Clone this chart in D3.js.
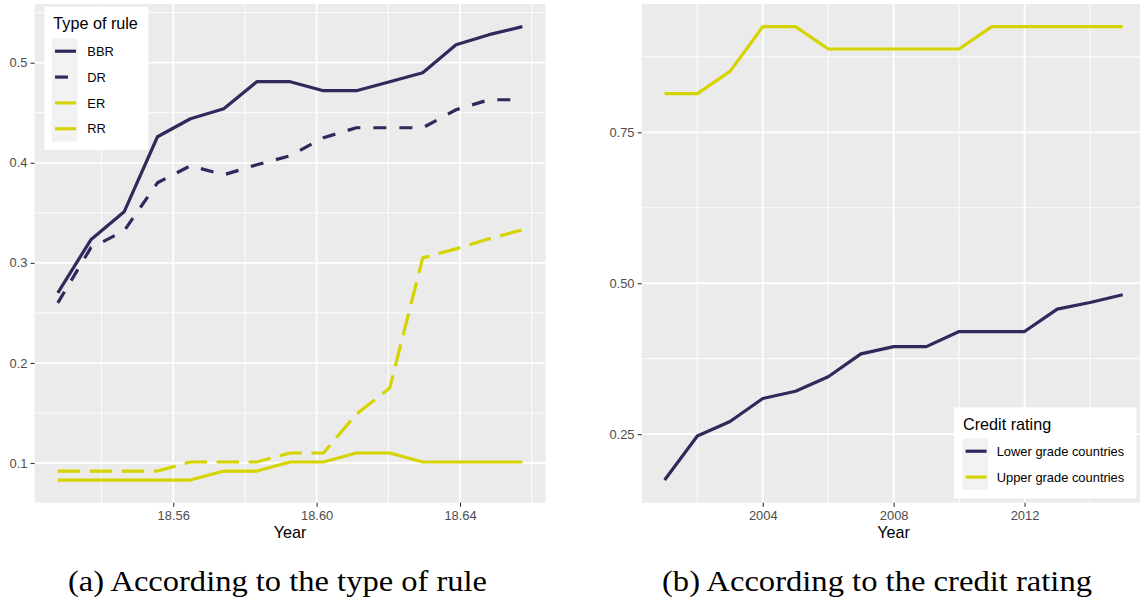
<!DOCTYPE html>
<html>
<head>
<meta charset="utf-8">
<script src="https://cdn.jsdelivr.net/npm/d3@7"></script>
<style>
  html, body { margin: 0; padding: 0; background: #ffffff; overflow: hidden; }
  svg { display: block; }
</style>
</head>
<body>
<svg id="chart" width="1140" height="602"></svg>
<script>
// ---------------- DATA ----------------
const years = [2001, 2002, 2003, 2004, 2005, 2006, 2007, 2008, 2009, 2010, 2011, 2012, 2013, 2014, 2015];
const ruleX = [18.5278, 18.5370, 18.5463, 18.5556, 18.5648, 18.5741, 18.5833, 18.5926,
               18.6019, 18.6111, 18.6204, 18.6296, 18.6389, 18.6481, 18.6574];
const ruleTypes = ["BBR", "DR", "ER", "RR"];
const bbr = [0.270, 0.323, 0.351, 0.426, 0.444, 0.454, 0.481, 0.481, 0.472, 0.472, 0.481, 0.490, 0.518, 0.528, 0.536];
const dr  = [0.260, 0.315, 0.332, 0.380, 0.397, 0.388, 0.398, 0.407, 0.425, 0.435, 0.435, 0.435, 0.453, 0.463, 0.463];
const er  = [0.092, 0.092, 0.092, 0.092, 0.101, 0.101, 0.101, 0.110, 0.110, 0.149, 0.175, 0.305, 0.314, 0.324, 0.333];
const rr  = [0.083, 0.083, 0.083, 0.083, 0.083, 0.092, 0.092, 0.101, 0.101, 0.110, 0.110, 0.101, 0.101, 0.101, 0.101];

const ratingNames = ["Lower grade countries", "Upper grade countries"];
const lowerGrade = [0.174, 0.247, 0.271, 0.309, 0.321, 0.345, 0.383, 0.395, 0.395, 0.420, 0.420, 0.420, 0.457, 0.468, 0.481];
const upperGrade = [0.814, 0.814, 0.851, 0.925, 0.925, 0.888, 0.888, 0.888, 0.888, 0.888, 0.925, 0.925, 0.925, 0.925, 0.925];

const ruleTicksX = [18.56, 18.60, 18.64];
const ruleMinorX = [18.54, 18.58, 18.62, 18.66];
const ruleTicksY = [0.1, 0.2, 0.3, 0.4, 0.5];
const ruleMinorY = [0.15, 0.25, 0.35, 0.45, 0.55];
const ratingTicksX = [2004, 2008, 2012];
const ratingMinorX = [2002, 2006, 2010, 2014];
const ratingTicksY = [0.25, 0.50, 0.75];
const ratingMinorY = [0.375, 0.625, 0.875];

const captionA = "(a) According to the type of rule";
const captionB = "(b) According to the credit rating";

// ---------------- STYLE ----------------
const NAVY = "#2e2a5b";
const YELLOW = "#d6d400";
const FONT = "'Liberation Sans', Arial, Helvetica, sans-serif";
const LW = 3.2;
const dashFor = { solid: null, dashed: "13,13", longdash: "22.4,9.6" };

const svg = d3.select("#chart");

function expand(ext) {
  const r = ext[1] - ext[0];
  return [ext[0] - 0.05 * r, ext[1] + 0.05 * r];
}

function drawPanel(opts) {
  const { x, y, xTicks, xMinor, yTicks, yMinor, xFmt, yFmt, series, left, right, top, bottom } = opts;
  const g = svg.append("g");
  // background
  g.append("rect").attr("x", left).attr("y", top)
    .attr("width", right - left).attr("height", bottom - top).attr("fill", "#ebebeb");
  // minor grid
  yMinor.forEach(v => g.append("line").attr("x1", left).attr("x2", right)
    .attr("y1", y(v)).attr("y2", y(v)).attr("stroke", "#ffffff").attr("stroke-width", 0.9));
  xMinor.forEach(v => g.append("line").attr("y1", top).attr("y2", bottom)
    .attr("x1", x(v)).attr("x2", x(v)).attr("stroke", "#ffffff").attr("stroke-width", 0.9));
  // major grid
  yTicks.forEach(v => g.append("line").attr("x1", left).attr("x2", right)
    .attr("y1", y(v)).attr("y2", y(v)).attr("stroke", "#ffffff").attr("stroke-width", 1.8));
  xTicks.forEach(v => g.append("line").attr("y1", top).attr("y2", bottom)
    .attr("x1", x(v)).attr("x2", x(v)).attr("stroke", "#ffffff").attr("stroke-width", 1.8));

  // lines
  const line = d3.line().x(d => x(d[0])).y(d => y(d[1])).curve(d3.curveLinear);
  series.forEach(s => {
    g.append("path").datum(s.xs.map((xv, i) => [xv, s.ys[i]]))
      .attr("d", line).attr("fill", "none")
      .attr("stroke", s.color).attr("stroke-width", LW)
      .attr("stroke-linejoin", "round").attr("stroke-linecap", "butt")
      .attr("stroke-dasharray", dashFor[s.type]);
  });

  // axes
  const ax = g.append("g").attr("transform", `translate(0,${bottom})`)
    .call(d3.axisBottom(x).tickValues(xTicks).tickFormat(xFmt).tickSize(4).tickPadding(4.5));
  const ay = g.append("g").attr("transform", `translate(${left},0)`)
    .call(d3.axisLeft(y).tickValues(yTicks).tickFormat(yFmt).tickSize(4).tickPadding(3.2));
  [ax, ay].forEach(a => {
    a.select(".domain").remove();
    a.selectAll(".tick line").attr("stroke", "#333333").attr("stroke-width", 1.1);
    a.selectAll(".tick text").attr("fill", "#4d4d4d").style("font-family", FONT).style("font-size", "12.9px");
  });
  // axis title
  g.append("text").attr("x", (left + right) / 2).attr("y", 538)
    .attr("text-anchor", "middle").style("font-family", FONT).style("font-size", "16.2px")
    .attr("fill", "#000").text("Year");
  return g;
}

function drawLegend(opts) {
  const { bx, by, bw, bh, title, items, keyX, keyY0, labelX } = opts;
  const g = svg.append("g");
  g.append("rect").attr("x", bx).attr("y", by).attr("width", bw).attr("height", bh).attr("fill", "#ffffff");
  g.append("text").attr("x", bx + 9).attr("y", by + 22.5)
    .style("font-family", FONT).style("font-size", "16.2px").attr("fill", "#000").text(title);
  const keyH = 25.85;
  g.append("rect").attr("x", keyX).attr("y", keyY0).attr("width", 26).attr("height", keyH * items.length)
    .attr("fill", "#f2f2f2");
  items.forEach((it, i) => {
    const cy = keyY0 + keyH * (i + 0.5);
    g.append("line").attr("x1", keyX + 3.3).attr("x2", keyX + 24.3).attr("y1", cy).attr("y2", cy)
      .attr("stroke", it.color).attr("stroke-width", LW).attr("stroke-linecap", "butt")
      .attr("stroke-dasharray", dashFor[it.type]);
    g.append("text").attr("x", labelX).attr("y", cy + 4.6)
      .style("font-family", FONT).style("font-size", "12.9px").attr("fill", "#000").text(it.name);
  });
}

// ---------------- PANEL A ----------------
const leftA = 34.6, rightA = 545.6, topP = 4, bottomP = 502.7;
const xA = d3.scaleLinear().domain(expand(d3.extent(ruleX))).range([leftA, rightA]);
const yA = d3.scaleLinear().domain(expand(d3.extent([...bbr, ...dr, ...er, ...rr]))).range([bottomP, topP]);
const ruleSeries = [
  { name: ruleTypes[0], ys: bbr, color: NAVY, type: "solid" },
  { name: ruleTypes[1], ys: dr, color: NAVY, type: "dashed" },
  { name: ruleTypes[2], ys: er, color: YELLOW, type: "longdash" },
  { name: ruleTypes[3], ys: rr, color: YELLOW, type: "solid" }
].map(s => Object.assign(s, { xs: ruleX }));

drawPanel({
  x: xA, y: yA, xTicks: ruleTicksX, xMinor: ruleMinorX, yTicks: ruleTicksY, yMinor: ruleMinorY,
  xFmt: d3.format(".2f"), yFmt: d3.format(".1f"), series: ruleSeries,
  left: leftA, right: rightA, top: topP, bottom: bottomP
});
drawLegend({
  bx: 44.3, by: 6.7, bw: 104, bh: 143.3, title: "Type of rule",
  items: ruleSeries, keyX: 51.7, keyY0: 38.3, labelX: 87.3
});

// ---------------- PANEL B ----------------
const leftB = 641.7, rightB = 1145.6;
const xB = d3.scaleLinear().domain(expand(d3.extent(years))).range([leftB, rightB]);
const yB = d3.scaleLinear().domain(expand(d3.extent([...lowerGrade, ...upperGrade]))).range([bottomP, topP]);
const ratingSeries = [
  { name: ratingNames[0], ys: lowerGrade, color: NAVY, type: "solid" },
  { name: ratingNames[1], ys: upperGrade, color: YELLOW, type: "solid" }
].map(s => Object.assign(s, { xs: years }));

drawPanel({
  x: xB, y: yB, xTicks: ratingTicksX, xMinor: ratingMinorX, yTicks: ratingTicksY, yMinor: ratingMinorY,
  xFmt: d3.format("d"), yFmt: d3.format(".2f"), series: ratingSeries,
  left: leftB, right: rightB, top: topP, bottom: bottomP
});
drawLegend({
  bx: 954, by: 407.3, bw: 182.5, bh: 91, title: "Credit rating",
  items: ratingSeries, keyX: 962.3, keyY0: 438.3, labelX: 996.7
});

// ---------------- CAPTIONS ----------------
svg.append("text").attr("x", 68).attr("y", 591)
  .style("font-family", "'Liberation Serif', 'Times New Roman', serif").style("font-size", "29px")
  .attr("textLength", 419).attr("lengthAdjust", "spacingAndGlyphs").attr("fill", "#000").text(captionA);
svg.append("text").attr("x", 662).attr("y", 591)
  .style("font-family", "'Liberation Serif', 'Times New Roman', serif").style("font-size", "29px")
  .attr("textLength", 430).attr("lengthAdjust", "spacingAndGlyphs").attr("fill", "#000").text(captionB);
</script>
</body>
</html>
